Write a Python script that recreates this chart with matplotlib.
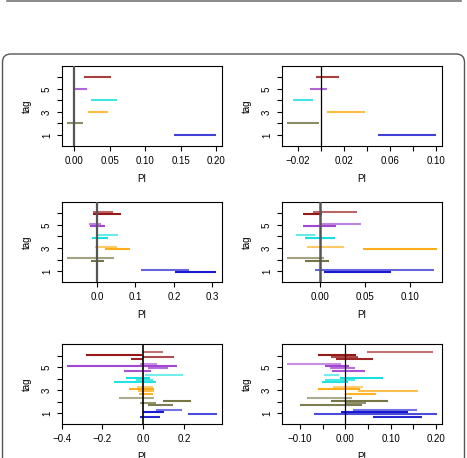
import matplotlib
matplotlib.use("Agg")
import matplotlib.pyplot as plt
from matplotlib.lines import Line2D
from matplotlib.patches import FancyBboxPatch

plt.rcParams["font.family"] = ["Liberation Sans", "DejaVu Sans"]

# ---- data ------------------------------------------------------------------
tags = [1, 2, 3, 4, 5, 6]
tag_colors = ["#0000cc", "#666633", "#ffa500", "#00dddd", "#9932cc", "#8b0000"]

# panel A / B: one interval per tag (lo, hi), tags 1..6
a_lo = [0.141, -0.011, 0.019, 0.023, -0.001, 0.013]
a_hi = [0.200, 0.012, 0.047, 0.060, 0.018, 0.052]

b_lo = [0.0495, -0.029, 0.005, -0.024, -0.009, -0.004]
b_hi = [0.0999, -0.002, 0.038, -0.007, 0.0055, 0.0155]

# panel C / D: two intervals per tag (upper row first)
c_lo = [[0.115, 0.204], [-0.079, -0.016], [-0.005, 0.020],
        [-0.001, -0.012], [-0.021, -0.018], [-0.011, -0.011]]
c_hi = [[0.240, 0.310], [0.044, 0.019], [0.053, 0.086],
        [0.055, 0.028], [0.010, 0.022], [0.042, 0.063]]

d_lo = [[-0.0055, 0.004], [-0.036, -0.017], [-0.014, 0.048],
        [-0.027, -0.016], [0.000, -0.0185], [-0.0074, -0.0185]]
d_hi = [[0.126, 0.079], [0.004, 0.010], [0.027, 0.129],
        [-0.005, 0.017], [0.045, 0.018], [0.041, 0.0026]]

# panel E / F: four intervals per tag (top to bottom)
e_lo = [[0.064, -0.003, 0.221, -0.016], [-0.119, 0.099, -0.018, 0.023],
        [-0.030, -0.070, -0.026, -0.020], [0.011, -0.083, -0.037, -0.142],
        [-0.016, -0.376, 0.024, -0.096], [0.000, -0.279, 0.000, -0.059]]
e_hi = [[0.189, 0.102, 0.361, 0.085], [0.055, 0.237, 0.064, 0.146],
        [0.049, 0.055, 0.052, 0.049], [0.194, 0.035, 0.050, 0.063],
        [0.069, 0.167, 0.123, 0.038], [0.097, -0.008, 0.152, 0.000]]

f_lo = [[0.018, -0.009, -0.069, 0.061], [-0.084, -0.032, 0.000, -0.099],
        [-0.027, -0.060, 0.029, 0.000], [-0.047, -0.0125, -0.044, -0.051],
        [-0.128, -0.044, -0.033, -0.029], [0.0485, -0.060, -0.031, -0.020]]
f_hi = [[0.157, 0.139, 0.2015, 0.169], [0.015, 0.093, 0.046, 0.036],
        [0.038, 0.032, 0.160, 0.067], [-0.015, 0.083, 0.021, 0.006],
        [-0.010, 0.008, 0.021, 0.043], [0.194, 0.0235, 0.027, 0.060]]

panels = [
    dict(lo=[[v] for v in a_lo], hi=[[v] for v in a_hi], xlim=(-0.018, 0.208),
         ticks=[0.0, 0.05, 0.10, 0.15, 0.20], labels=["0.00", "0.05", "0.10", "0.15", "0.20"],
         zero=("#555555", 1.6), alphas=[0.75]),
    dict(lo=[[v] for v in b_lo], hi=[[v] for v in b_hi], xlim=(-0.034, 0.1047),
         ticks=[-0.02, 0.0, 0.02, 0.04, 0.06, 0.08, 0.10],
         labels=["\u22120.02", "", "0.02", "", "0.06", "", "0.10"],
         zero=("black", 0.9), alphas=[0.75]),
    dict(lo=c_lo, hi=c_hi, xlim=(-0.092, 0.3244),
         ticks=[0.0, 0.1, 0.2, 0.3], labels=["0.0", "0.1", "0.2", "0.3"],
         zero=("#555555", 1.6), alphas=[0.6, 0.9]),
    dict(lo=d_lo, hi=d_hi, xlim=(-0.0424, 0.1347),
         ticks=[0.0, 0.05, 0.10], labels=["0.00", "0.05", "0.10"],
         zero=("#555555", 1.8), alphas=[0.6, 0.9]),
    dict(lo=e_lo, hi=e_hi, xlim=(-0.4, 0.385),
         ticks=[-0.4, -0.2, 0.0, 0.2], labels=["\u22120.4", "\u22120.2", "0.0", "0.2"],
         zero=("black", 1.2), alphas=[0.55, 0.9, 0.7, 0.85]),
    dict(lo=f_lo, hi=f_hi, xlim=(-0.1404, 0.2125),
         ticks=[-0.10, -0.05, 0.0, 0.05, 0.10, 0.15, 0.20],
         labels=["\u22120.10", "", "0.00", "", "0.10", "", "0.20"],
         zero=("black", 0.9), alphas=[0.55, 0.9, 0.7, 0.85]),
]

positions = [
    (0.132, 0.681, 0.3426, 0.1753), (0.603, 0.681, 0.343, 0.1753),
    (0.132, 0.3836, 0.3426, 0.176), (0.603, 0.3836, 0.343, 0.176),
    (0.132, 0.0736, 0.3426, 0.1747), (0.603, 0.0736, 0.343, 0.1747),
]

# ---- figure ----------------------------------------------------------------
fig = plt.figure(figsize=(4.67, 4.58), dpi=100)

# decorations: rule at the top and rounded frame around the panels
fig.add_artist(Line2D([7 / 467, 461 / 467], [1 - 1 / 458] * 2,
                      color="#777777", lw=1.2, transform=fig.transFigure))
fig.add_artist(FancyBboxPatch((2.5 / 467, -0.1), 462 / 467, 0.1 + 1 - 54 / 458,
                              boxstyle="round,pad=0,rounding_size=0.018",
                              fc="none", ec="#555555", lw=1.0,
                              transform=fig.transFigure, clip_on=False))

for p, pos in zip(panels, positions):
    ax = fig.add_axes(pos)
    for t, col, los, his in zip(tags, tag_colors, p["lo"], p["hi"]):
        n = len(los)
        offs = [0.0] if n == 1 else [0.1 * (n - 1) - 0.2 * k for k in range(n)]
        for k, (lo, hi) in enumerate(zip(los, his)):
            ax.plot([lo, hi], [t + offs[k]] * 2, color=col,
                    alpha=p["alphas"][k], lw=1.5, solid_capstyle="butt")
    zc, zw = p["zero"]
    ax.axvline(0, color=zc, lw=zw, zorder=3)
    ax.set_xlim(*p["xlim"])
    ax.set_ylim(0.03, 7.0)
    ax.set_xticks(p["ticks"])
    ax.set_xticklabels(p["labels"])
    ax.set_yticks(tags)
    ax.set_yticklabels(["1", "", "3", "", "5", ""], rotation=90, va="center")
    ax.tick_params(length=3.5, width=0.8, labelsize=7, pad=3.5)
    ax.set_xlabel("PI", fontsize=7, labelpad=6)
    ax.set_ylabel("tag", fontsize=7, labelpad=7)
    for s in ax.spines.values():
        s.set_linewidth(0.8)

fig.savefig("out.png", dpi=100)
